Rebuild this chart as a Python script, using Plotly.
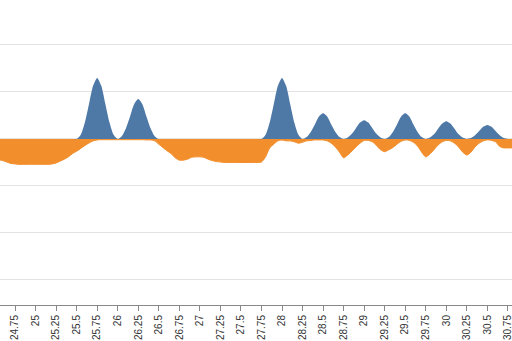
import plotly.graph_objects as go

x_vals = [
    24.55, 24.60, 24.65, 24.70, 24.75, 24.80, 24.85, 24.90, 24.95, 25.00,
    25.05, 25.10, 25.15, 25.20, 25.25, 25.30, 25.35, 25.40, 25.45, 25.50,
    25.55, 25.60, 25.65, 25.70, 25.75, 25.80, 25.85, 25.90, 25.95, 26.00,
    26.05, 26.10, 26.15, 26.20, 26.25, 26.30, 26.35, 26.40, 26.45, 26.50,
    26.55, 26.60, 26.65, 26.70, 26.75, 26.80, 26.85, 26.90, 26.95, 27.00,
    27.05, 27.10, 27.15, 27.20, 27.25, 27.30, 27.35, 27.40, 27.45, 27.50,
    27.55, 27.60, 27.65, 27.70, 27.75, 27.80, 27.85, 27.90, 27.95, 28.00,
    28.05, 28.10, 28.15, 28.20, 28.25, 28.30, 28.35, 28.40, 28.45, 28.50,
    28.55, 28.60, 28.65, 28.70, 28.75, 28.80, 28.85, 28.90, 28.95, 29.00,
    29.05, 29.10, 29.15, 29.20, 29.25, 29.30, 29.35, 29.40, 29.45, 29.50,
    29.55, 29.60, 29.65, 29.70, 29.75, 29.80, 29.85, 29.90, 29.95, 30.00,
    30.05, 30.10, 30.15, 30.20, 30.25, 30.30, 30.35, 30.40, 30.45, 30.50,
    30.55, 30.60, 30.65, 30.70, 30.75, 30.80,
]

blue_vals = [
    0, 0, 0, 0, 0, 0, 0, 0, 0, 0,
    0, 0, 0, 0, 0, 0, 0, 0, 0, 0,
    0.09, 0.35, 0.74, 1.13, 1.30, 1.13, 0.74, 0.35, 0.09, 0,
    0.06, 0.23, 0.48, 0.74, 0.85, 0.74, 0.48, 0.23, 0.06, 0,
    0, 0, 0, 0, 0, 0, 0, 0, 0, 0,
    0, 0, 0, 0, 0, 0, 0, 0, 0, 0,
    0, 0, 0, 0, 0, 0.09, 0.35, 0.74, 1.13, 1.30,
    1.13, 0.74, 0.35, 0.09, 0, 0.04, 0.15, 0.31, 0.48, 0.55,
    0.48, 0.31, 0.15, 0.04, 0, 0.03, 0.11, 0.23, 0.35, 0.40,
    0.35, 0.23, 0.11, 0.03, 0, 0.04, 0.15, 0.31, 0.48, 0.55,
    0.48, 0.31, 0.15, 0.04, 0, 0.03, 0.10, 0.22, 0.33, 0.38,
    0.33, 0.22, 0.10, 0.03, 0, 0.02, 0.08, 0.17, 0.26, 0.30,
    0.26, 0.17, 0.08, 0.02, 0, 0,
]

orange_vals = [
    -0.44, -0.46, -0.49, -0.52, -0.53, -0.54, -0.54, -0.54, -0.54, -0.54,
    -0.54, -0.54, -0.54, -0.53, -0.51, -0.47, -0.43, -0.38, -0.31, -0.26,
    -0.20, -0.14, -0.085, -0.04, -0.02, -0.015, -0.015, -0.015, -0.015, -0.015,
    -0.015, -0.015, -0.015, -0.015, -0.015, -0.015, -0.02, -0.02, -0.04, -0.11,
    -0.18, -0.25, -0.31, -0.40, -0.45, -0.45, -0.43, -0.39, -0.38, -0.38,
    -0.39, -0.43, -0.46, -0.48, -0.49, -0.50, -0.50, -0.50, -0.50, -0.50,
    -0.50, -0.50, -0.50, -0.50, -0.49, -0.38, -0.19, -0.11, -0.04, -0.02,
    -0.04, -0.04, -0.06, -0.09, -0.07, -0.04, -0.03, -0.02, -0.02, -0.02,
    -0.04, -0.09, -0.17, -0.28, -0.40, -0.34, -0.26, -0.17, -0.09, -0.03,
    -0.03, -0.06, -0.14, -0.23, -0.27, -0.23, -0.18, -0.11, -0.05, -0.02,
    -0.03, -0.07, -0.15, -0.28, -0.38, -0.32, -0.23, -0.13, -0.06, -0.03,
    -0.04, -0.09, -0.17, -0.28, -0.34, -0.28, -0.17, -0.09, -0.04, -0.02,
    -0.03, -0.06, -0.16, -0.19, -0.19, -0.19,
]

tick_vals = [24.75, 25, 25.25, 25.5, 25.75, 26, 26.25, 26.5, 26.75, 27, 27.25,
             27.5, 27.75, 28, 28.25, 28.5, 28.75, 29, 29.25, 29.5, 29.75, 30,
             30.25, 30.5, 30.75]
tick_text = ["24.75", "25", "25.25", "25.5", "25.75", "26", "26.25", "26.5",
             "26.75", "27", "27.25", "27.5", "27.75", "28", "28.25", "28.5",
             "28.75", "29", "29.25", "29.5", "29.75", "30", "30.25", "30.5",
             "30.75"]

n = min(len(x_vals), len(blue_vals), len(orange_vals))

fig = go.Figure()
fig.add_trace(go.Scatter(
    x=x_vals[:n], y=orange_vals[:n], mode="lines", fill="tozeroy",
    line=dict(color="#f28e2b", width=1, shape="spline", smoothing=0.7),
    fillcolor="#f28e2b", hoverinfo="skip", showlegend=False,
))
fig.add_trace(go.Scatter(
    x=x_vals[:n], y=blue_vals[:n], mode="lines", fill="tozeroy",
    line=dict(color="#4e79a7", width=0, shape="spline", smoothing=0.7),
    fillcolor="#4e79a7", hoverinfo="skip", showlegend=False,
))

fig.update_layout(
    width=512, height=341,
    margin=dict(l=0, r=0, t=0, b=36),
    paper_bgcolor="white", plot_bgcolor="white",
    font=dict(family="Liberation Sans, Arial, sans-serif", size=10, color="#333"),
    xaxis=dict(
        range=[24.567, 30.80], tickmode="array", tickvals=tick_vals,
        ticktext=tick_text, tickangle=-90, showgrid=False, zeroline=False,
        showline=True, linecolor="#888", linewidth=1,
        ticks="outside", ticklen=5, tickcolor="#888",
        tickfont=dict(size=10, color="#333"),
        ticklabeloverflow="allow",
    ),
    yaxis=dict(
        range=[-3.532, 2.957], dtick=1, tick0=0, showgrid=True,
        gridcolor="#e3e3e3", gridwidth=1, zeroline=False,
        showticklabels=False, showline=False,
    ),
)

fig.write_html("out.html")
